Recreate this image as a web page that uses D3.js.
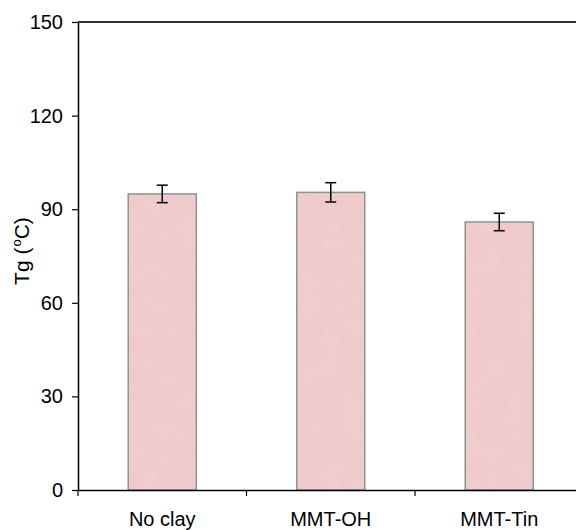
<!DOCTYPE html>
<html><head><meta charset="utf-8">
<script src="https://cdn.jsdelivr.net/npm/d3@7"></script>
<style>body{margin:0;background:#fff}svg{display:block}</style>
</head><body>
<script>
const categories = ["No clay", "MMT-OH", "MMT-Tin"];
const tgValues = [94.9, 95.4, 85.9];
const tgErrors = [2.8, 3.1, 2.8];
const yTicks = [0, 30, 60, 90, 120, 150];

(function () {
const W = 576, H = 530;
const mLeft = 78, mTop = 22, mBottom = 490, mRight = 583.5;
const svg = d3.select("body").append("svg").attr("width", W).attr("height", H);

const defs = svg.append("defs");
const filt = defs.append("filter").attr("id", "tex").attr("x", 0).attr("y", 0).attr("width", 1).attr("height", 1);
filt.append("feTurbulence").attr("type", "fractalNoise").attr("baseFrequency", 0.05).attr("numOctaves", 3).attr("seed", 4).attr("result", "n");
filt.append("feColorMatrix").attr("in", "n").attr("type", "matrix")
  .attr("values", "0 0 0 0 0.86  0 0 0 0 0.68  0 0 0 0 0.69  0 0 0 1.2 -0.45").attr("result", "c");
filt.append("feComposite").attr("in", "c").attr("in2", "SourceGraphic").attr("operator", "in");

const x = d3.scaleBand().domain(categories).range([mLeft, mRight]).paddingInner(0).paddingOuter(0);
const y = d3.scaleLinear().domain([0, 150]).range([mBottom, mTop]);
const bw = x.step() * 0.404;
const bx = d => x(d) + x.bandwidth() / 2 - bw / 2;

const g = svg.append("g");
g.selectAll("rect.bar").data(categories).join("rect").attr("class", "bar")
  .attr("x", bx)
  .attr("y", (d, i) => y(tgValues[i]))
  .attr("width", bw)
  .attr("height", (d, i) => y(0) - y(tgValues[i]))
  .attr("fill", "#f0cacb");
g.selectAll("rect.tex").data(categories).join("rect").attr("class", "tex")
  .attr("x", bx)
  .attr("y", (d, i) => y(tgValues[i]))
  .attr("width", bw)
  .attr("height", (d, i) => y(0) - y(tgValues[i]))
  .attr("fill", "#fff").attr("filter", "url(#tex)").attr("opacity", 0.5);
g.selectAll("rect.outline").data(categories).join("rect").attr("class", "outline")
  .attr("x", bx)
  .attr("y", (d, i) => y(tgValues[i]))
  .attr("width", bw)
  .attr("height", (d, i) => y(0) - y(tgValues[i]))
  .attr("fill", "none").attr("stroke", "#8c9494").attr("stroke-width", 1.5);

// error bars
const cx = d => x(d) + x.bandwidth() / 2;
const eb = g.selectAll("g.err").data(categories).join("g").attr("class", "err")
  .attr("stroke", "#000").attr("stroke-width", 1.5);
eb.append("line")
  .attr("x1", cx).attr("x2", cx)
  .attr("y1", (d, i) => y(tgValues[i] + tgErrors[i])).attr("y2", (d, i) => y(tgValues[i] - tgErrors[i]));
eb.append("line")
  .attr("x1", d => cx(d) - 5.5).attr("x2", d => cx(d) + 5.5)
  .attr("y1", (d, i) => y(tgValues[i] + tgErrors[i])).attr("y2", (d, i) => y(tgValues[i] + tgErrors[i]));
eb.append("line")
  .attr("x1", d => cx(d) - 5.5).attr("x2", d => cx(d) + 5.5)
  .attr("y1", (d, i) => y(tgValues[i] - tgErrors[i])).attr("y2", (d, i) => y(tgValues[i] - tgErrors[i]));

// top frame line
svg.append("line").attr("x1", mLeft).attr("x2", W).attr("y1", mTop).attr("y2", mTop)
  .attr("stroke", "#333").attr("stroke-width", 2);

// y axis
const yAxis = svg.append("g").attr("transform", `translate(${mLeft},0)`)
  .call(d3.axisLeft(y).tickValues(yTicks).tickSize(6).tickPadding(9).tickSizeOuter(0));
yAxis.select(".domain").attr("stroke", "#000").attr("stroke-width", 1.5);
yAxis.selectAll(".tick line").attr("stroke", "#000").attr("stroke-width", 1.2);
yAxis.selectAll("text").attr("font-family", "'Liberation Sans', Arial, sans-serif").attr("font-size", 20).attr("fill", "#000");

// x axis
const xAxis = svg.append("g").attr("transform", `translate(0,${mBottom})`)
  .call(d3.axisBottom(x).tickSize(0).tickPadding(22).tickSizeOuter(0));
xAxis.select(".domain").attr("stroke", "#000").attr("stroke-width", 1.5);
xAxis.selectAll("text").attr("font-family", "'Liberation Sans', Arial, sans-serif").attr("font-size", 20).attr("fill", "#000");
// category separator ticks
svg.append("g").selectAll("line").data(categories).join("line")
  .attr("x1", d => x(d)).attr("x2", d => x(d))
  .attr("y1", mBottom).attr("y2", mBottom + 6)
  .attr("stroke", "#000").attr("stroke-width", 1.2);

// y label
const yl = svg.append("text")
  .attr("transform", `translate(29,${(mTop + mBottom) / 2 - 5}) rotate(-90)`)
  .attr("text-anchor", "middle")
  .attr("font-family", "'Liberation Sans', Arial, sans-serif").attr("font-size", 21).attr("fill", "#000");
yl.append("tspan").text("Tg (");
yl.append("tspan").attr("font-size", 13).attr("dy", -8).attr("dx", 1).text("o");
yl.append("tspan").attr("dy", 8).text("C)");
})();
</script>
</body></html>
